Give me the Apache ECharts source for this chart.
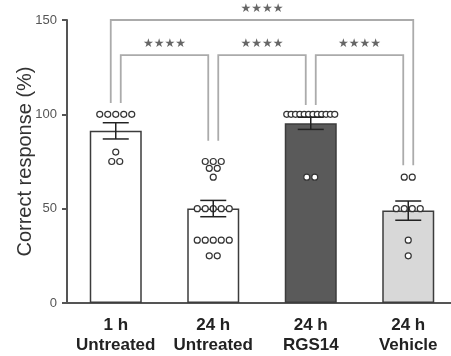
<!DOCTYPE html>
<html>
<head>
<meta charset="utf-8">
<script src="https://cdn.jsdelivr.net/npm/echarts@6/dist/echarts.min.js"></script>
<style>
  html, body { margin: 0; padding: 0; background: #fff; }
  #chart { width: 451px; height: 356px; }
</style>
</head>
<body>
<div id="chart"></div>
<script>
// Group labels (two lines each)
const categories = ['1 h\nUntreated', '24 h\nUntreated', '24 h\nRGS14', '24 h\nVehicle'];

// Individual animal scores (% correct) per group
const untreated1h = [100, 100, 100, 100, 100, 80, 75, 75];
const untreated24h = [75, 75, 75, 71.4, 71.4, 66.7, 50, 50, 50, 50, 50, 33.3, 33.3, 33.3, 33.3, 33.3, 25, 25];
const rgs14_24h = [100, 100, 100, 100, 100, 100, 100, 100, 100, 100, 100, 100, 66.7, 66.7];
const vehicle24h = [66.7, 66.7, 50, 50, 50, 50, 33.3, 25];
const groups = [untreated1h, untreated24h, rgs14_24h, vehicle24h];

// Y axis ticks
const yTicks = [0, 50, 100, 150];

// Pairwise comparisons: [groupA, groupB, significance]
const comparisons = [[0, 1, '★★★★'], [1, 2, '★★★★'], [2, 3, '★★★★'], [0, 3, '★★★★']];
// Bracket heights (y value) for adjacent and the spanning comparison
const bracketLevels = [131.4, 131.4, 131.4, 150];
// Where the bracket legs stop above each group
const legEnds = [106, 86, 105, 73];

const barFills = ['#ffffff', '#ffffff', '#5a5a5a', '#d8d8d8'];

function mean(a) { return a.reduce((s, v) => s + v, 0) / a.length; }
function sem(a) {
  const m = mean(a);
  const v = a.reduce((s, x) => s + (x - m) * (x - m), 0) / (a.length - 1);
  return Math.sqrt(v) / Math.sqrt(a.length);
}

const means = groups.map(mean);
const sems = groups.map(sem);

// Scatter points spread sideways when they share a value
const scatterData = [];
groups.forEach((g, gi) => {
  const counts = {};
  g.forEach(v => { counts[v] = (counts[v] || 0) + 1; });
  const seen = {};
  g.forEach(v => {
    const n = counts[v];
    const i = seen[v] = (seen[v] === undefined ? 0 : seen[v] + 1);
    const step = n > 1 ? Math.min(8, 48 / (n - 1)) : 0;
    const dx = (i - (n - 1) / 2) * step;
    scatterData.push({ value: [gi, v], symbolOffset: [dx, 0] });
  });
});

const chart = echarts.init(document.getElementById('chart'), null, { renderer: 'canvas' });

const font = '"Liberation Sans", Arial, sans-serif';

chart.setOption({
  animation: false,
  backgroundColor: '#ffffff',
  grid: { left: 67, top: 20, bottom: 53, width: 390, containLabel: false, outerBoundsMode: 'none' },
  xAxis: {
    type: 'category',
    data: categories,
    axisLine: { lineStyle: { color: '#555', width: 2 } },
    axisTick: { alignWithLabel: true, length: 5, lineStyle: { color: '#555', width: 2 } },
    axisLabel: {
      color: '#222', fontSize: 17, fontWeight: 'bold', fontFamily: font,
      lineHeight: 20, margin: 12, interval: 0
    }
  },
  yAxis: {
    type: 'value',
    min: 0, max: 150, interval: 50,
    name: 'Correct response (%)',
    nameLocation: 'middle',
    nameGap: 32,
    nameMoveOverlap: false,
    nameRotate: 90,
    nameTextStyle: { color: '#333', fontSize: 20, fontFamily: font },
    splitLine: { show: false },
    axisLine: { show: true, lineStyle: { color: '#555', width: 2 } },
    axisTick: { show: true, length: 5, lineStyle: { color: '#555', width: 2 } },
    axisLabel: {
      color: '#555', fontSize: 13, fontFamily: font, margin: 10,
      formatter: v => (yTicks.indexOf(v) >= 0 ? String(v) : '')
    }
  },
  series: [
    {
      type: 'bar',
      barWidth: 52,
      data: means.map((m, i) => ({
        value: m,
        itemStyle: { color: barFills[i], borderColor: '#3c3c3c', borderWidth: 1.5 }
      })),
      z: 1
    },
    {
      type: 'scatter',
      data: scatterData,
      symbol: 'circle',
      symbolSize: 6,
      itemStyle: { color: '#ffffff', borderColor: '#333', borderWidth: 1.2, opacity: 1 },
      z: 3
    },
    {
      // mean ± SEM
      type: 'custom',
      data: means.map((m, i) => [i, m, sems[i]]),
      z: 4,
      renderItem: function (params, api) {
        const i = api.value(0), m = api.value(1), e = api.value(2);
        const hi = api.coord([i, m + e]);
        const lo = api.coord([i, m - e]);
        const half = 13;
        const style = { stroke: '#222', lineWidth: 1.5 };
        return {
          type: 'group',
          children: [
            { type: 'line', shape: { x1: hi[0], y1: hi[1], x2: lo[0], y2: lo[1] }, style },
            { type: 'line', shape: { x1: hi[0] - half, y1: hi[1], x2: hi[0] + half, y2: hi[1] }, style },
            { type: 'line', shape: { x1: lo[0] - half, y1: lo[1], x2: lo[0] + half, y2: lo[1] }, style }
          ]
        };
      }
    },
    {
      // significance brackets
      type: 'custom',
      clip: false,
      data: comparisons.map((c, k) => [c[0], c[1], bracketLevels[k], k]),
      z: 5,
      renderItem: function (params, api) {
        const a = api.value(0), b = api.value(1), lvl = api.value(2), k = api.value(3);
        const spanning = b - a > 1;
        const off = 5;
        const pa = api.coord([a, lvl]);
        const pb = api.coord([b, lvl]);
        const xa = pa[0] + (spanning ? -off : off);
        const xb = pb[0] + (spanning ? off : -off);
        const y = pa[1];
        const ya = api.coord([a, legEnds[a]])[1];
        const yb = api.coord([b, legEnds[b]])[1];
        const style = { stroke: '#ababab', lineWidth: 1.8, fill: null };
        return {
          type: 'group',
          children: [
            { type: 'polyline', shape: { points: [[xa, ya], [xa, y], [xb, y], [xb, yb]] }, style },
            {
              type: 'text',
              style: {
                text: comparisons[k][2],
                x: (xa + xb) / 2, y: y - 11.5,
                textAlign: 'center', textVerticalAlign: 'middle',
                fill: '#666666', font: '12px "DejaVu Sans", sans-serif'
              }
            }
          ]
        };
      }
    }
  ]
});
</script>
</body>
</html>
